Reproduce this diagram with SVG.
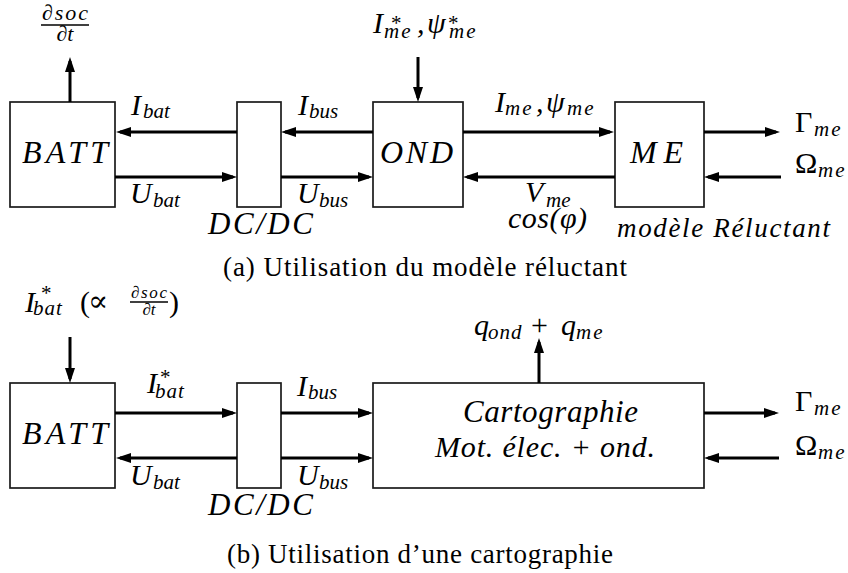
<svg xmlns="http://www.w3.org/2000/svg" width="848" height="573" viewBox="0 0 848 573">
<defs>
<marker id="ah" markerUnits="userSpaceOnUse" markerWidth="15" markerHeight="10" refX="11" refY="5" orient="auto">
<path d="M0,0 L15,5 L0,10 z" fill="#000"/>
</marker>
<style>
.box{fill:#fff;stroke:#1a1a1a;stroke-width:1.7}
.con line{stroke:#000;stroke-width:3;marker-end:url(#ah)}
text{font-family:"Liberation Serif","DejaVu Serif",serif;fill:#000}
.m{font-style:italic;font-size:30px}
.s{font-size:21px}
.me{letter-spacing:2px}
.up{font-style:normal}
.cap{font-size:27px}
.fr{font-style:italic;font-size:22px}
.frs{font-style:italic;font-size:17px}
.bar{stroke:#000;stroke-width:1.3}
</style>
</defs>
<rect width="848" height="573" fill="#fff"/>

<!-- (a) -->
<g id="batt_a"><rect class="box" x="10" y="102" width="105" height="105"/><text class="m" x="22" y="163" style="font-size:32px" textLength="86" lengthAdjust="spacing">BATT</text></g>
<g id="dcdc_a"><rect class="box" x="237" y="102" width="44" height="105"/><text class="m" x="208" y="234" style="font-size:31px" textLength="105" lengthAdjust="spacing">DC/DC</text></g>
<g id="ond_a"><rect class="box" x="373" y="102" width="90" height="105"/><text class="m" x="380" y="163" style="font-size:32px" textLength="73" lengthAdjust="spacing">OND</text></g>
<g id="me_a"><rect class="box" x="615" y="102" width="89" height="105"/><text class="m" x="630" y="163" style="font-size:32px" textLength="53" lengthAdjust="spacing">ME</text><text class="m" x="617" y="237" style="font-size:27px" textLength="213" lengthAdjust="spacing">modèle Réluctant</text></g>

<g id="con_a" class="con">
<line x1="70" y1="102" x2="70" y2="61"/>
<line x1="237" y1="132" x2="120" y2="132"/>
<line x1="115" y1="177" x2="233" y2="177"/>
<line x1="373" y1="132" x2="285" y2="132"/>
<line x1="281" y1="177" x2="369" y2="177"/>
<line x1="418" y1="57" x2="418" y2="98"/>
<line x1="463" y1="132" x2="610" y2="132"/>
<line x1="615" y1="177" x2="467" y2="177"/>
<line x1="704" y1="132" x2="776" y2="132"/>
<line x1="781" y1="177" x2="708" y2="177"/>
</g>

<g id="labels_a">
<text class="fr" x="42" y="20" textLength="46" lengthAdjust="spacing">∂soc</text>
<line class="bar" x1="41" y1="25" x2="89" y2="25"/>
<text class="fr" x="65" y="41" text-anchor="middle">∂t</text>
<text class="m" x="131" y="115">I<tspan class="s" x="143" y="118">bat</tspan></text>
<text class="m" x="130" y="203">U<tspan class="s" x="153" y="207">bat</tspan></text>
<text class="m" x="298" y="115">I<tspan class="s" x="309" y="118">bus</tspan></text>
<text class="m" x="297" y="203">U<tspan class="s" x="319" y="207">bus</tspan></text>
<text class="m" x="373" y="33">I<tspan class="s" x="390" y="30">*</tspan><tspan class="s me" x="384" y="38">me</tspan><tspan x="417" y="33">,</tspan><tspan x="427" y="33">ψ</tspan><tspan class="s" x="447" y="30">*</tspan><tspan class="s me" x="449" y="38">me</tspan></text>
<text class="m" x="495" y="112">I<tspan class="s me" x="505" y="115">me</tspan><tspan x="536" y="112">,</tspan><tspan x="546" y="112">ψ</tspan><tspan class="s me" x="567" y="115">me</tspan></text>
<text class="m" x="525" y="202">V<tspan class="s" x="546" y="207">me</tspan></text>
<text class="m" x="508" y="228" textLength="79" lengthAdjust="spacing">cos(φ)</text>
<text class="m" x="795" y="132"><tspan class="up">Γ</tspan><tspan class="s me" x="814" y="136">me</tspan></text>
<text class="m" x="795" y="173"><tspan class="up">Ω</tspan><tspan class="s me" x="818" y="177">me</tspan></text>
<text class="cap" x="223" y="276" textLength="404" lengthAdjust="spacing">(a) Utilisation du modèle réluctant</text>
</g>

<!-- (b) -->
<g id="batt_b"><rect class="box" x="10" y="383" width="105" height="105"/><text class="m" x="22" y="444" style="font-size:32px" textLength="86" lengthAdjust="spacing">BATT</text></g>
<g id="dcdc_b"><rect class="box" x="237" y="383" width="44" height="105"/><text class="m" x="208" y="515" style="font-size:31px" textLength="105" lengthAdjust="spacing">DC/DC</text></g>
<g id="carto_b"><rect class="box" x="373" y="383" width="331" height="105"/><text class="m" x="463" y="422" style="font-size:31px" textLength="175" lengthAdjust="spacing">Cartographie</text><text class="m" x="435" y="457" textLength="220" lengthAdjust="spacing">Mot. élec. + ond.</text></g>

<g id="con_b" class="con">
<line x1="70" y1="337" x2="70" y2="379"/>
<line x1="115" y1="413" x2="233" y2="413"/>
<line x1="237" y1="458" x2="120" y2="458"/>
<line x1="281" y1="413" x2="369" y2="413"/>
<line x1="281" y1="458" x2="369" y2="458"/>
<line x1="539" y1="383" x2="539" y2="342"/>
<line x1="704" y1="413" x2="775" y2="413"/>
<line x1="779" y1="458" x2="708" y2="458"/>
</g>

<g id="labels_b">
<text class="m" x="25" y="312">I<tspan class="s" x="40" y="300">*</tspan><tspan class="s" x="33" y="315" letter-spacing="1">bat</tspan></text>
<text class="up" x="80" y="312" style="font-size:30px">(</text>
<text class="up" x="88" y="311" style="font-size:30px">∝</text>
<text class="frs" x="131" y="298" textLength="36" lengthAdjust="spacing">∂soc</text>
<line class="bar" x1="130" y1="302" x2="168" y2="302"/>
<text class="frs" x="149" y="315" text-anchor="middle">∂t</text>
<text class="up" x="169" y="312" style="font-size:30px">)</text>
<text class="m" x="147" y="393">I<tspan class="s" x="159" y="384">*</tspan><tspan class="s" x="155" y="398" letter-spacing="1">bat</tspan></text>
<text class="m" x="130" y="485">U<tspan class="s" x="153" y="489">bat</tspan></text>
<text class="m" x="297" y="396">I<tspan class="s" x="308" y="399">bus</tspan></text>
<text class="m" x="297" y="485">U<tspan class="s" x="319" y="489">bus</tspan></text>
<text class="m" x="474" y="335">q<tspan class="s" x="488" y="339" letter-spacing="1">ond</tspan><tspan class="up" x="531" y="335">+</tspan><tspan x="561" y="335">q</tspan><tspan class="s me" x="576" y="339">me</tspan></text>
<text class="m" x="795" y="411"><tspan class="up">Γ</tspan><tspan class="s me" x="814" y="415">me</tspan></text>
<text class="m" x="795" y="455"><tspan class="up">Ω</tspan><tspan class="s me" x="818" y="459">me</tspan></text>
<text class="cap" x="227" y="563" textLength="386" lengthAdjust="spacing">(b) Utilisation d’une cartographie</text>
</g>
</svg>
